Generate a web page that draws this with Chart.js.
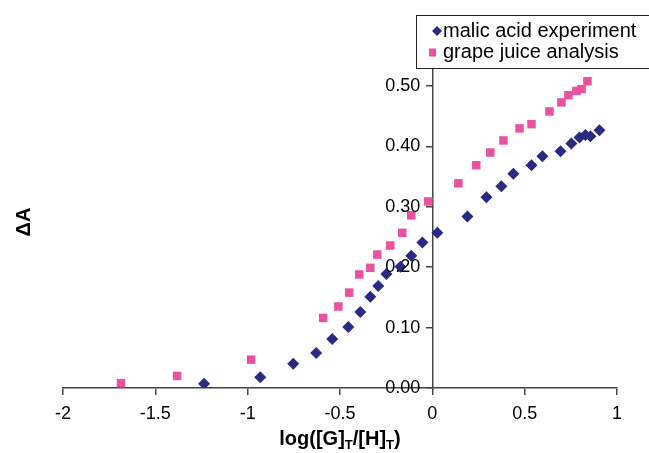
<!DOCTYPE html>
<html>
<head>
<meta charset="utf-8">
<script src="https://cdn.jsdelivr.net/npm/chart.js@4/dist/chart.umd.min.js"></script>
<style>
  html, body { margin: 0; padding: 0; background: #fff; }
</style>
</head>
<body>
<canvas id="chart" width="649" height="453"></canvas>
<script>
// titration data: log([G]T/[H]T) against absorbance change
const malicX = [-1.236, -0.932, -0.753, -0.629, -0.542, -0.455, -0.390, -0.336, -0.293, -0.249,
                -0.173, -0.114, -0.054, 0.027, 0.190, 0.293, 0.374, 0.439, 0.537, 0.596,
                0.694, 0.753, 0.797, 0.829, 0.856, 0.905];
const malicY = [0.007, 0.018, 0.040, 0.058, 0.081, 0.101, 0.126, 0.151, 0.169, 0.189,
                0.201, 0.219, 0.241, 0.257, 0.284, 0.316, 0.334, 0.355, 0.369, 0.384,
                0.392, 0.405, 0.415, 0.419, 0.417, 0.427];

const grapeX = [-1.686, -1.382, -0.981, -0.591, -0.509, -0.450, -0.396, -0.336, -0.298, -0.228,
                -0.163, -0.114, -0.022, 0.141, 0.238, 0.314, 0.385, 0.472, 0.537, 0.634,
                0.699, 0.737, 0.780, 0.808, 0.840];
const grapeY = [0.008, 0.020, 0.047, 0.116, 0.135, 0.158, 0.188, 0.199, 0.221, 0.236,
                0.257, 0.286, 0.309, 0.339, 0.369, 0.390, 0.410, 0.430, 0.437, 0.458,
                0.473, 0.485, 0.492, 0.495, 0.508];

const xTicks = [-2, -1.5, -1, -0.5, 0, 0.5, 1];
const yTicks = [0, 0.1, 0.2, 0.3, 0.4, 0.5];
const seriesNames = ["malic acid experiment", "grape juice analysis"];

const BLUE = "#2a2a82";
const PINK = "#e8529e";
const FONT = "'Liberation Sans', Arial, sans-serif";

function toPoints(xs, ys) {
    return xs.map((x, i) => ({ x: x, y: ys[i] }));
}

// legend box, y tick labels and both axis titles.
// Chart.js ignores tick padding for an axis crossing at a value, so the
// y labels are placed here instead.
const decorations = {
    id: "decorations",
    afterDraw(chart) {
        const ctx = chart.ctx;
        const xs = chart.scales.x;
        const ys = chart.scales.y;
        ctx.save();

        // y tick labels, left of the crossing axis
        const axisX = xs.getPixelForValue(0);
        ctx.fillStyle = "#000";
        ctx.font = "18px " + FONT;
        ctx.textAlign = "right";
        ctx.textBaseline = "middle";
        yTicks.forEach(v => {
            ctx.fillText(v.toFixed(2), axisX - 12, ys.getPixelForValue(v));
        });

        // legend
        ctx.fillStyle = "#fff";
        ctx.fillRect(416, 15, 240, 53);
        ctx.strokeStyle = "#222";
        ctx.lineWidth = 1;
        ctx.strokeRect(416.5, 15.5, 240, 53);

        ctx.fillStyle = BLUE;
        ctx.beginPath();
        ctx.moveTo(437, 26);
        ctx.lineTo(442, 31);
        ctx.lineTo(437, 36);
        ctx.lineTo(432, 31);
        ctx.closePath();
        ctx.fill();

        ctx.fillStyle = PINK;
        ctx.fillRect(429, 48.5, 7, 8);

        ctx.fillStyle = "#000";
        ctx.font = "20px " + FONT;
        ctx.textBaseline = "middle";
        ctx.textAlign = "left";
        ctx.fillText(seriesNames[0], 443, 31);
        ctx.fillText(seriesNames[1], 443, 52);

        // y title
        ctx.save();
        ctx.translate(24, 222);
        ctx.rotate(-Math.PI / 2);
        ctx.font = "bold 20px " + FONT;
        ctx.textAlign = "center";
        ctx.textBaseline = "middle";
        ctx.fillText("\u0394A", 0, 0);
        ctx.restore();

        // x title: log([G]T/[H]T) with subscript T
        const parts = [
            ["log([G]", false], ["T", true], ["/[H]", false], ["T", true], [")", false]
        ];
        const big = "bold 20px " + FONT;
        const small = "bold 13px " + FONT;
        let total = 0;
        parts.forEach(p => {
            ctx.font = p[1] ? small : big;
            total += ctx.measureText(p[0]).width;
        });
        const area = chart.chartArea;
        let x = (area.left + area.right) / 2 - total / 2;
        const base = 445;
        ctx.textBaseline = "alphabetic";
        parts.forEach(p => {
            ctx.font = p[1] ? small : big;
            ctx.fillText(p[0], x, p[1] ? base + 4 : base);
            x += ctx.measureText(p[0]).width;
        });

        ctx.restore();
    }
};

new Chart(document.getElementById("chart"), {
    type: "scatter",
    data: {
        datasets: [
            {
                label: seriesNames[0],
                data: toPoints(malicX, malicY),
                pointStyle: "rectRot",
                pointRadius: 6,
                pointHoverRadius: 6,
                backgroundColor: BLUE,
                borderColor: BLUE,
                borderWidth: 0
            },
            {
                label: seriesNames[1],
                data: toPoints(grapeX, grapeY),
                pointStyle: "rect",
                pointRadius: 6,
                pointHoverRadius: 6,
                backgroundColor: PINK,
                borderColor: PINK,
                borderWidth: 0
            }
        ]
    },
    options: {
        responsive: false,
        animation: false,
        devicePixelRatio: 1,
        layout: { padding: { left: 63, right: 32, top: 68, bottom: 0 } },
        plugins: {
            legend: { display: false },
            tooltip: { enabled: false }
        },
        scales: {
            x: {
                type: "linear",
                min: -2,
                max: 1,
                afterFit: s => { s.height = 65; },
                afterBuildTicks: s => { s.ticks = xTicks.map(v => ({ value: v })); },
                ticks: {
                    color: "#000",
                    font: { family: FONT, size: 18 },
                    padding: 8,
                    callback: v => String(v)
                },
                grid: { drawOnChartArea: false, drawTicks: true, tickLength: 7, color: "#444", lineWidth: 1.5 },
                border: { display: true, color: "#444", width: 1.5 }
            },
            y: {
                type: "linear",
                position: { x: 0 },
                min: 0,
                max: 0.53,
                afterBuildTicks: s => { s.ticks = yTicks.map(v => ({ value: v })); },
                ticks: {
                    display: false
                },
                grid: { drawOnChartArea: false, drawTicks: true, tickLength: 6, color: "#444", lineWidth: 1.5 },
                border: { display: true, color: "#444", width: 1.5 }
            }
        }
    },
    plugins: [decorations]
});
</script>
</body>
</html>
